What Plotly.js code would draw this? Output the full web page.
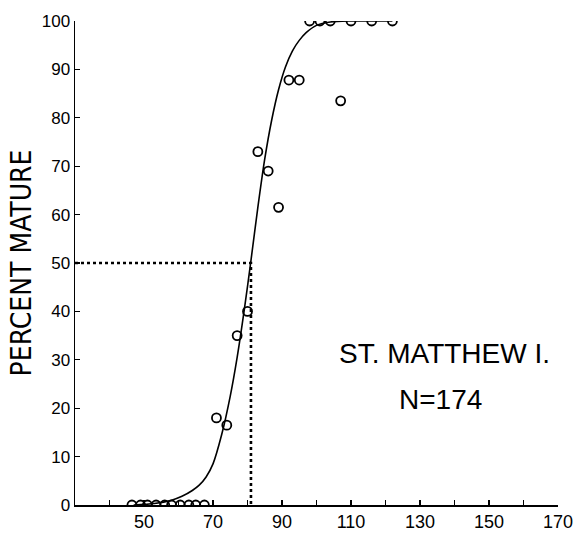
<!DOCTYPE html>
<html>
<head>
<meta charset="utf-8">
<script src="https://cdn.plot.ly/plotly-3.0.1.min.js"></script>
<style>
  html, body { margin: 0; padding: 0; background: #fff; }
  #chart { width: 578px; height: 536px; }
</style>
</head>
<body>
<div id="chart"></div>
<script>
const obsLength = [46.5, 49, 51, 53.5, 56, 58, 60.5, 63, 65, 67.5,
                   71, 74, 77, 80, 83, 86, 89, 92, 95, 98, 101, 104, 107, 110, 116, 122];
const obsPercent = [0, 0, 0, 0, 0, 0, 0, 0, 0, 0,
                    18, 16.5, 35, 40, 73, 69, 61.5, 87.8, 87.8, 100, 100, 100, 83.5, 100, 100, 100];

// Fitted maturity curve
const curveLength = [47, 53, 58, 61, 64, 66, 68, 70, 72.5, 75, 77, 79, 81, 83, 85, 87, 89, 91, 93, 95, 97, 100, 104, 110, 116, 122];
const curvePercent = [0, 0.3, 1, 1.8, 3, 4.1, 5.8, 8.5, 14.5, 22.5, 30.5, 40, 50.5, 61.5, 71.5, 79.5, 85.8, 90.5, 93.8, 96, 97.6, 99.1, 99.8, 100, 100, 100];

// 50% maturity guide
const guideX = [30, 81, 81];
const guideY = [50, 50, 0];

// Axis ticks
const xTickVals = [40, 50, 60, 70, 80, 90, 100, 110, 120, 130, 140, 150, 160, 170];
const xTickText = ['', '50', '', '70', '', '90', '', '110', '', '130', '', '150', '', '170'];
const yTickVals = [0, 10, 20, 30, 40, 50, 60, 70, 80, 90, 100];

const labelLine1 = 'ST. MATTHEW I.';
const labelLine2 = 'N=174';

const traces = [
  {
    x: guideX, y: guideY, mode: 'lines', type: 'scatter',
    line: { color: '#000', width: 2.6, dash: 'dot' }, hoverinfo: 'skip'
  },
  {
    x: curveLength, y: curvePercent, mode: 'lines', type: 'scatter',
    line: { color: '#000', width: 1.6, shape: 'spline', smoothing: 0.8 }, hoverinfo: 'skip'
  },
  {
    x: obsLength, y: obsPercent, mode: 'markers', type: 'scatter',
    marker: { symbol: 'circle-open', size: 9, color: '#000', line: { width: 1.8, color: '#000' } }
  }
];

const layout = {
  width: 578, height: 536,
  margin: { l: 75, r: 20, t: 21, b: 31 },
  paper_bgcolor: '#fff', plot_bgcolor: '#fff',
  showlegend: false,
  font: { family: 'Liberation Sans, Arial, sans-serif', color: '#000' },
  xaxis: {
    range: [30, 170], showgrid: false, zeroline: false,
    showline: true, linecolor: '#000', linewidth: 1.5,
    tickmode: 'array', tickvals: xTickVals, ticktext: xTickText,
    ticks: 'inside', ticklen: 5, tickwidth: 1.2, tickcolor: '#000',
    tickfont: { size: 18, family: 'Liberation Sans, Arial, sans-serif' }
  },
  yaxis: {
    range: [0, 100], showgrid: false, zeroline: false,
    showline: true, linecolor: '#000', linewidth: 1.5,
    tickmode: 'array', tickvals: yTickVals,
    ticks: 'inside', ticklen: 5, tickwidth: 1.2, tickcolor: '#000',
    tickfont: { size: 17, family: 'Liberation Sans, Arial, sans-serif' },
    title: {
      text: 'PERCENT MATURE', standoff: 2,
      font: { size: 28, family: 'Liberation Sans Narrow, DejaVu Sans Condensed, Arial Narrow, sans-serif' }
    }
  },
  annotations: [
    { x: 137.2, y: 31.2, xref: 'x', yref: 'y', text: labelLine1, showarrow: false,
      font: { size: 28, family: 'Liberation Sans, Arial, sans-serif', color: '#000' } },
    { x: 135.8, y: 21.7, xref: 'x', yref: 'y', text: labelLine2, showarrow: false,
      font: { size: 28, family: 'Liberation Sans, Arial, sans-serif', color: '#000' } }
  ]
};

Plotly.newPlot('chart', traces, layout, { displayModeBar: false, staticPlot: true });
</script>
</body>
</html>
